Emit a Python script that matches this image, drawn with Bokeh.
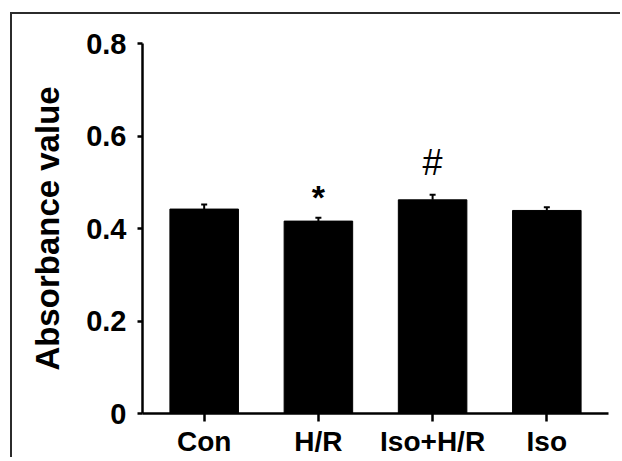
from bokeh.plotting import figure
from bokeh.models import ColumnDataSource, FactorRange, Range1d, FixedTicker, Whisker, TeeHead
from bokeh.core.properties import value
from bokeh.embed import file_html
from bokeh.resources import INLINE

# ---- data ----
categories = ["Con", "H/R", "Iso+H/R", "Iso"]
absorbance = [0.442, 0.416, 0.462, 0.439]
sem = [0.010, 0.007, 0.011, 0.007]
star_groups = ["H/R"]
hash_groups = ["Iso+H/R"]
y_ticks = [0, 0.2, 0.4, 0.6, 0.8]
y_tick_labels = ["0", "0.2", "0.4", "0.6", "0.8"]

upper = [v + e for v, e in zip(absorbance, sem)]
src = ColumnDataSource(dict(cat=categories, val=absorbance, upper=upper))
star_src = ColumnDataSource(dict(cat=star_groups,
                                 y=[upper[categories.index(c)] for c in star_groups],
                                 t=["*"] * len(star_groups)))
hash_src = ColumnDataSource(dict(cat=hash_groups,
                                 y=[upper[categories.index(c)] for c in hash_groups],
                                 t=["#"] * len(hash_groups)))

FONT = "Liberation Sans"

fig = figure(
    x_range=FactorRange(factors=categories, range_padding=0.04, range_padding_units="absolute"),
    y_range=Range1d(0, 0.8),
    width=610, height=445,
    output_backend="svg", toolbar_location=None,
    min_border_left=130, min_border_right=14, min_border_top=29, min_border_bottom=46,
)
fig.border_fill_color = "white"
fig.background_fill_color = "white"
fig.outline_line_color = None
fig.grid.visible = False
# panel frame of the figure: top and left rules only
fig.styles = {"margin-left": "12px", "margin-top": "14px",
              "box-shadow": "-2px -2px 0 0 #2b2b2b"}

fig.vbar(x="cat", top="val", width=0.6, source=src, fill_color="black", line_color="black")

whisker = Whisker(base="cat", upper="upper", lower="val", source=src, dimension="height",
                  line_width=2, line_color="black",
                  upper_head=TeeHead(size=6, line_width=2, line_color="black"),
                  lower_head=None)
fig.add_layout(whisker)

fig.text(x="cat", y="y", text="t", source=star_src, text_font=value(FONT),
         text_font_style="bold", text_font_size="34px", text_align="center",
         text_baseline="alphabetic", y_offset=-21, text_color="black")
fig.text(x="cat", y="y", text="t", source=hash_src, text_font=value(FONT),
         text_font_style="normal", text_font_size="36px", text_align="center",
         text_baseline="alphabetic", y_offset=-32, text_color="black")

# y axis
ya = fig.yaxis[0]
ya.ticker = FixedTicker(ticks=y_ticks, minor_ticks=[])
ya.major_label_overrides = {t: l for t, l in zip(y_ticks, y_tick_labels)}
ya.axis_label = "Absorbance value"
ya.axis_label_text_font = FONT
ya.axis_label_text_font_style = "bold"
ya.axis_label_text_font_size = "33px"
ya.axis_label_standoff = 17
ya.major_label_text_font = FONT
ya.major_label_text_font_style = "bold"
ya.major_label_text_font_size = "29px"
ya.major_label_standoff = 11
ya.major_tick_out = 5
ya.major_tick_in = 0
ya.minor_tick_out = 0
ya.minor_tick_in = 0
ya.axis_line_width = 2.5
ya.major_tick_line_width = 2.5
ya.axis_line_color = "black"
ya.major_tick_line_color = "black"
ya.major_label_text_color = "black"
ya.axis_label_text_color = "black"

# x axis
xa = fig.xaxis[0]
xa.major_label_text_font = FONT
xa.major_label_text_font_style = "bold"
xa.major_label_text_font_size = "28px"
xa.major_label_standoff = 4
xa.major_label_orientation = "horizontal"
xa.major_tick_out = 8
xa.major_tick_in = 0
xa.axis_line_width = 2.5
xa.major_tick_line_width = 2.5
xa.axis_line_color = "black"
xa.major_tick_line_color = "black"
xa.major_label_text_color = "black"

p = fig
open("out.html", "w").write(file_html(p, INLINE))
